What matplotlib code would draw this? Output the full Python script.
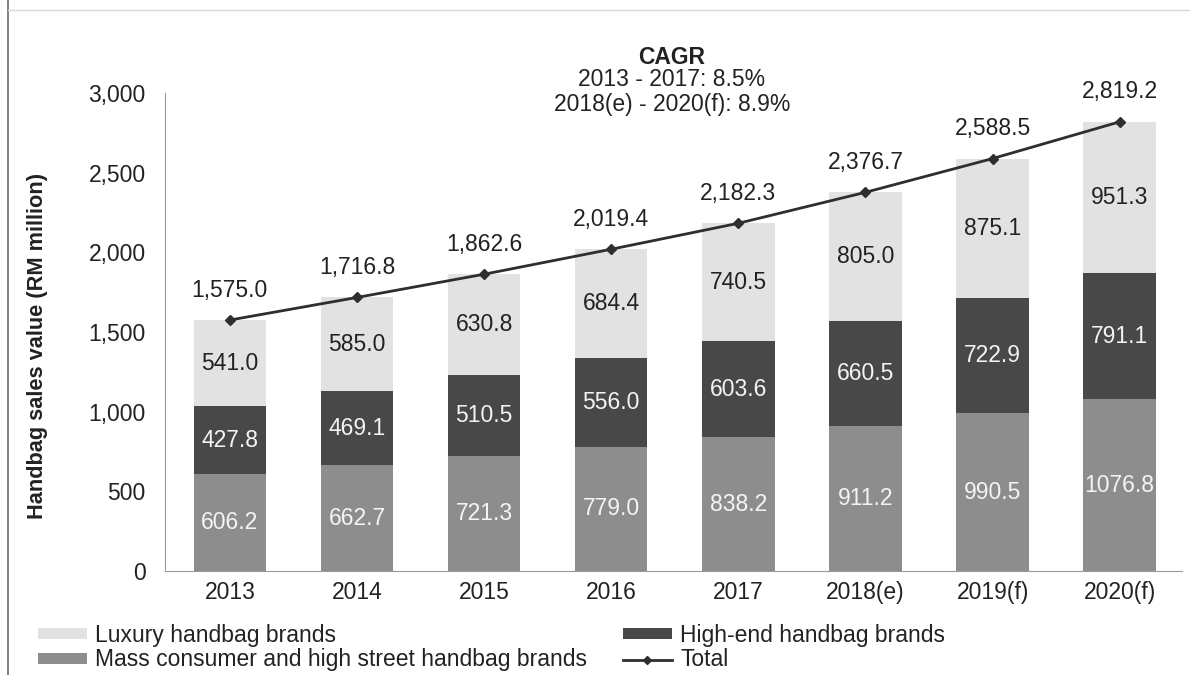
import matplotlib
matplotlib.use("Agg")
import matplotlib.pyplot as plt
from matplotlib.patches import Patch
from matplotlib.lines import Line2D
from matplotlib.ticker import FuncFormatter, MultipleLocator

plt.rcParams['font.family'] = ['Liberation Sans', 'DejaVu Sans']

years = ["2013", "2014", "2015", "2016", "2017", "2018(e)", "2019(f)", "2020(f)"]
mass = [606.2, 662.7, 721.3, 779.0, 838.2, 911.2, 990.5, 1076.8]
high_end = [427.8, 469.1, 510.5, 556.0, 603.6, 660.5, 722.9, 791.1]
luxury = [541.0, 585.0, 630.8, 684.4, 740.5, 805.0, 875.1, 951.3]
total = [1575.0, 1716.8, 1862.6, 2019.4, 2182.3, 2376.7, 2588.5, 2819.2]

c_lux = "#e2e2e2"
c_high = "#484848"
c_mass = "#8d8d8d"
c_line = "#2e2e2e"
txt = "#222222"
fs = 16.5

fig = plt.figure(figsize=(11.9, 6.75), dpi=100)
ax = fig.add_axes([165 / 1190, 1 - 571 / 675, (1182 - 165) / 1190, (571 - 93) / 675])

x = list(range(len(years)))
w = 0.57
ax.bar(x, mass, w, color=c_mass, zorder=2)
bottom2 = mass
ax.bar(x, high_end, w, bottom=bottom2, color=c_high, zorder=2)
bottom3 = [m + h for m, h in zip(mass, high_end)]
ax.bar(x, luxury, w, bottom=bottom3, color=c_lux, zorder=2)


def seg_labels(vals, bottoms, color):
    for xi, v, b in zip(x, vals, bottoms):
        ax.text(xi, b + v / 2, f"{v:.1f}", ha="center", va="center",
                fontsize=fs, color=color, zorder=4)


seg_labels(mass, [0] * len(mass), "#f4f4f4")
seg_labels(high_end, bottom2, "#f4f4f4")
seg_labels(luxury, bottom3, txt)

ax.plot(x, total, color=c_line, lw=2, marker="D", markersize=5.5, zorder=5)
for xi, t in zip(x, total):
    ax.annotate(f"{t:,.1f}", (xi, t), xytext=(0, 21.5), textcoords="offset points",
                ha="center", va="center", fontsize=fs, color=txt, zorder=6)

ax.set_xlim(-0.51, 7.49)
ax.set_ylim(0, 3000)
ax.yaxis.set_major_locator(MultipleLocator(500))
ax.yaxis.set_major_formatter(FuncFormatter(lambda v, p: f"{v:,.0f}"))
ax.set_xticks(x)
ax.set_xticklabels(years)
ax.tick_params(axis="both", length=0, labelsize=fs, colors=txt)
ax.tick_params(axis="y", pad=14)
ax.tick_params(axis="x", pad=7)
for s in ["top", "right"]:
    ax.spines[s].set_visible(False)
ax.spines["left"].set_color("#9a9a9a")
ax.spines["bottom"].set_color("#9a9a9a")
ax.set_ylabel("Handbag sales value (RM million)", fontsize=15.7, fontweight="bold",
              color=txt)
ax.yaxis.set_label_coords((48 - 165) / (1182 - 165), 0.47)

# CAGR note
cx = 672 / 1190
fig.text(cx, 1 - 57 / 675, "CAGR", ha="center", va="center", fontsize=fs,
         fontweight="bold", color=txt)
fig.text(cx, 1 - 80 / 675, "2013 - 2017: 8.5%", ha="center", va="center",
         fontsize=fs, color=txt)
fig.text(cx, 1 - 104 / 675, "2018(e) - 2020(f): 8.9%", ha="center", va="center",
         fontsize=fs, color=txt)

handles = [
    Patch(facecolor=c_lux, edgecolor="none", label="Luxury handbag brands"),
    Patch(facecolor=c_mass, edgecolor="none",
          label="Mass consumer and high street handbag brands"),
    Patch(facecolor=c_high, edgecolor="none", label="High-end handbag brands"),
    Line2D([], [], color=c_line, lw=2, marker="D", markersize=4, label="Total"),
]
fig.legend(handles=handles, ncol=2, loc="upper left",
           bbox_to_anchor=(38 / 1190, 1 - 624 / 675), frameon=False,
           fontsize=fs, handlelength=2.15, handleheight=0.35, handletextpad=0.35,
           columnspacing=1.55, labelspacing=0.06, borderpad=0, borderaxespad=0,
           labelcolor=txt)

# outer frame edge
fig.add_artist(Line2D([8 / 1190, 8 / 1190], [0, 1], transform=fig.transFigure,
                      color="#6a6a6a", lw=1.2))
fig.add_artist(Line2D([8 / 1190, 1], [1 - 10 / 675, 1 - 10 / 675],
                      transform=fig.transFigure, color="#d8d8d8", lw=1))

fig.savefig("out.png", dpi=100)
